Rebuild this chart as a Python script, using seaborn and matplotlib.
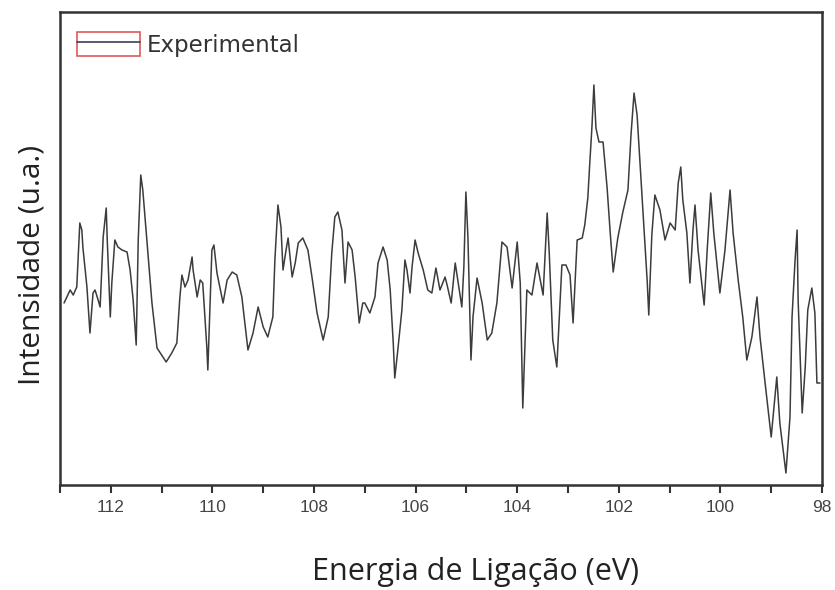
import matplotlib
matplotlib.use("Agg")
import matplotlib.pyplot as plt
import seaborn as sns
from matplotlib.patches import Rectangle
from matplotlib.lines import Line2D
from matplotlib.legend_handler import HandlerTuple
from matplotlib.ticker import MultipleLocator

# Binding energy (eV) of each sample along the scan
energy = [
    112.92, 112.80, 112.74, 112.67, 112.61, 112.57, 112.55, 112.47, 112.41, 112.35,
    112.31, 112.25, 112.21, 112.15, 112.09, 112.07, 112.01, 111.98, 111.92, 111.86,
    111.78, 111.68, 111.62, 111.56, 111.50, 111.46, 111.41, 111.37, 111.29, 111.19,
    111.09, 110.91, 110.80, 110.70, 110.64, 110.60, 110.54, 110.48, 110.40, 110.38,
    110.30, 110.24, 110.19, 110.11, 110.09, 110.01, 109.97, 109.91, 109.79, 109.71,
    109.61, 109.52, 109.42, 109.30, 109.20, 109.10, 109.00, 108.91, 108.81, 108.77,
    108.71, 108.65, 108.61, 108.55, 108.51, 108.43, 108.37, 108.31, 108.22, 108.12,
    108.04, 107.94, 107.82, 107.72, 107.65, 107.59, 107.53, 107.45, 107.39, 107.33,
    107.25, 107.19, 107.11, 107.04, 107.00, 106.90, 106.80, 106.74, 106.64, 106.56,
    106.50, 106.44, 106.41, 106.35, 106.27, 106.21, 106.17, 106.11, 106.07, 106.01,
    105.95, 105.85, 105.76, 105.68, 105.60, 105.52, 105.42, 105.38, 105.30, 105.22,
    105.17, 105.09, 105.05, 105.01, 104.97, 104.91, 104.87, 104.79, 104.69, 104.59,
    104.50, 104.40, 104.30, 104.20, 104.10, 104.00, 103.94, 103.89, 103.81, 103.71,
    103.61, 103.49, 103.41, 103.37, 103.30, 103.22, 103.12, 103.04, 102.96, 102.90,
    102.82, 102.72, 102.67, 102.61, 102.57, 102.53, 102.49, 102.45, 102.39, 102.31,
    102.23, 102.17, 102.11, 102.02, 101.92, 101.82, 101.76, 101.70, 101.64, 101.58,
    101.52, 101.44, 101.41, 101.35, 101.29, 101.19, 101.09, 100.99, 100.89, 100.83,
    100.78, 100.74, 100.66, 100.60, 100.54, 100.50, 100.44, 100.32, 100.26, 100.19,
    100.13, 100.01, 99.91, 99.81, 99.75, 99.65, 99.56, 99.48, 99.38, 99.28,
    99.22, 99.12, 99.00, 98.89, 98.83, 98.71, 98.63, 98.59, 98.53, 98.49,
    98.47, 98.39, 98.33, 98.28, 98.20, 98.14, 98.10, 98.04,
]

# Measured intensity (arbitrary units)
intensity = [
    182, 195, 190, 198, 262, 255, 238, 198, 152, 192,
    195, 185, 178, 248, 277, 245, 168, 202, 245, 238,
    235, 233, 215, 185, 140, 245, 310, 295, 245, 182,
    137, 123, 132, 142, 188, 210, 198, 205, 228, 215,
    188, 205, 202, 138, 115, 235, 240, 212, 182, 205,
    213, 210, 188, 135, 152, 178, 158, 148, 168, 225,
    280, 258, 215, 235, 247, 208, 222, 242, 247, 235,
    208, 172, 145, 168, 232, 268, 273, 255, 202, 243,
    235, 208, 162, 182, 182, 172, 188, 222, 238, 225,
    195, 142, 107, 135, 175, 225, 215, 192, 218, 245,
    232, 215, 195, 192, 217, 195, 208, 200, 182, 222,
    205, 178, 218, 293, 248, 125, 168, 207, 182, 145,
    152, 182, 243, 238, 197, 243, 202, 77, 195, 190,
    222, 190, 272, 233, 145, 118, 220, 220, 210, 162,
    245, 247, 260, 287, 323, 357, 400, 357, 343, 343,
    297, 253, 213, 247, 273, 295, 350, 392, 370, 320,
    270, 203, 170, 250, 290, 275, 245, 262, 255, 302,
    318, 285, 252, 202, 255, 280, 235, 180, 235, 292,
    252, 192, 235, 295, 252, 205, 168, 125, 148, 188,
    148, 102, 48, 108, 62, 12, 68, 168, 225, 255,
    185, 72, 118, 175, 197, 172, 102, 102,
]

x_ticks = [112, 110, 108, 106, 104, 102, 100, 98]
x_label = "Energia de Ligação (eV)"
y_label = "Intensidade (u.a.)"
series_name = "Experimental"

sns.set_style("white")

fig = plt.figure(figsize=(8.35, 5.90), dpi=100)
ax = fig.add_axes([60 / 835, 105 / 590, 762 / 835, 473 / 590])

line_color = "#3c3c3c"
sns.lineplot(x=energy, y=intensity, ax=ax, color=line_color, linewidth=1.1,
             legend=False)

ax.set_xlim(113, 98)
ax.set_ylim(0, 473)

ax.set_xticks(x_ticks)
ax.set_xticklabels([str(t) for t in x_ticks])
ax.xaxis.set_minor_locator(MultipleLocator(1))
ax.set_yticks([])

ax.tick_params(axis="x", which="both", direction="out", length=6, width=1.5,
               color="#333333", bottom=True, labelsize=12.5,
               labelcolor="#444444", pad=5)
for lbl in ax.get_xticklabels():
    lbl.set_fontfamily("Liberation Sans")

for sp in ax.spines.values():
    sp.set_linewidth(1.8)
    sp.set_color("#333333")

ax.set_xlabel(x_label, fontsize=22, family="Open Sans", color="#222222")
ax.xaxis.set_label_coords(0.545, -0.153)
ax.set_ylabel(y_label, fontsize=21.5, family="Open Sans", color="#222222")
ax.yaxis.set_label_coords(-0.018, 0.465)

# Legend entry: a red-outlined box with the trace colour running through it
box = Rectangle((0, 0), 1, 1, facecolor="none", edgecolor="#e05a5a",
                linewidth=1.2)
trace = Line2D([], [], color="#3a3f55", linewidth=1.2)
ax.legend(handles=[(box, trace)], labels=[series_name],
          handler_map={tuple: HandlerTuple(ndivide=1, pad=0)},
          loc="upper left", bbox_to_anchor=(17 / 762, 1 - 20 / 473),
          frameon=False, borderpad=0, borderaxespad=0,
          handlelength=2.75, handleheight=1.22, handletextpad=0.3,
          prop={"family": "DejaVu Sans", "size": 16.5})
for txt in ax.get_legend().get_texts():
    txt.set_color("#333333")

fig.savefig("out.png", dpi=100)
